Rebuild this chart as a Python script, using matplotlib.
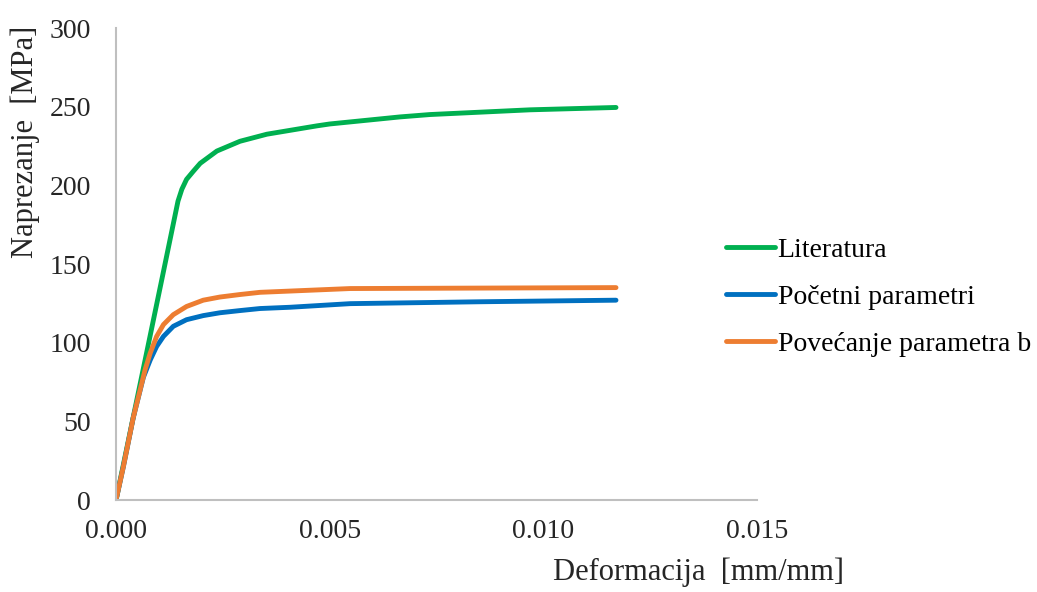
import matplotlib

matplotlib.use('Agg')
from matplotlib import pyplot as plt

# values
lit_x = [0.0, 0.0006, 0.00107, 0.00145, 0.00154, 0.00165, 0.00181, 0.00197, 0.00236,
         0.0029, 0.00353, 0.0047, 0.005, 0.00665, 0.00735, 0.00969, 0.0117]
lit_y = [0, 78.5, 140, 190, 197.5, 203.8, 209, 214, 221.8,
         228, 232.5, 237.8, 239, 243.5, 245, 248, 249.5]

poc_x = [0.0, 0.00017, 0.0004, 0.00064, 0.0008, 0.00095, 0.00111, 0.00134, 0.00165,
         0.00204, 0.00243, 0.0029, 0.00337, 0.00407, 0.00548, 0.00852, 0.0117]
poc_y = [0, 21, 52, 78, 89, 97.6, 104, 110.4, 114.6,
         117.2, 119, 120.4, 121.7, 122.5, 124.8, 126, 127]

pov_x = [0.0, 0.00017, 0.0004, 0.00068, 0.0008, 0.00095, 0.00111, 0.00134, 0.00165,
         0.00204, 0.00243, 0.0029, 0.00337, 0.00548, 0.0117]
pov_y = [0, 21, 52, 82.8, 93.4, 104, 111.5, 117.8, 123,
         127, 129, 130.6, 132, 134.4, 135]

series = ["Literatura", "Početni parametri", "Povećanje parametra b"]
colors = ["#00B050", "#0070C0", "#ED7D31"]

x_ticks = [0.0, 0.005, 0.010, 0.015]
y_ticks = [0, 50, 100, 150, 200, 250, 300]

plt.rcParams['font.family'] = ['Liberation Serif', 'DejaVu Serif']

fig = plt.figure(figsize=(10.37, 5.92), dpi=100)
ax = fig.add_axes([0.1119, 0.1554, 0.6181, 0.7973])

for xs, ys, name, c in zip([lit_x, poc_x, pov_x], [lit_y, poc_y, pov_y], series, colors):
    ax.plot(xs, ys, color=c, lw=3.5, label=name, solid_capstyle='round', solid_joinstyle='round')

ax.set(xlim=(0, 0.015), ylim=(0, 300), xticks=x_ticks, yticks=y_ticks)
ax.set_xticklabels([f"{v:.3f}" for v in x_ticks])
ax.tick_params(length=0, labelsize=20, colors='#262626')
ax.tick_params(axis='x', pad=14)
ax.tick_params(axis='y', pad=18)

for s in ['top', 'right']:
    ax.spines[s].set_visible(False)
for s in ['left', 'bottom']:
    ax.spines[s].set_color('#BFBFBF')
    ax.spines[s].set_linewidth(1.5)

ax.set_xlabel("Deformacija  [mm/mm]", fontsize=22, color='#262626')
ax.xaxis.set_label_coords(0.909, -0.121)
ax.set_ylabel("Naprezanje  [MPa]", fontsize=22, color='#262626')
ax.yaxis.set_label_coords(-0.1186, 0.758)

fig.legend(loc='center left', bbox_to_anchor=(0.700, 0.498), frameon=False, fontsize=20,
           handlelength=1.76, handletextpad=0.1, labelspacing=0.77, borderpad=0, borderaxespad=0)

fig.savefig('out.png', dpi=100)
